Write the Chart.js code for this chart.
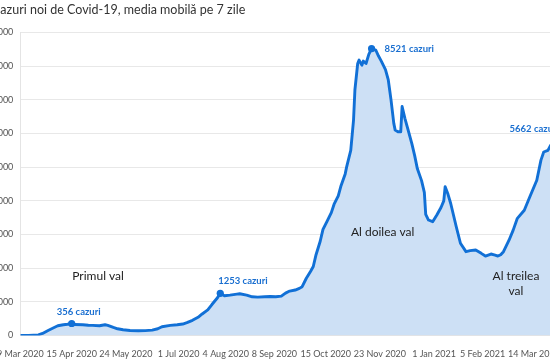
<!DOCTYPE html>
<html><head><meta charset="utf-8">
<script src="https://cdn.jsdelivr.net/npm/chart.js@4/dist/chart.umd.min.js"></script>
<style>
html,body{margin:0;padding:0;overflow:hidden;background:#fff;width:550px;height:362px;}
#wrap{position:absolute;left:-8px;top:0;width:575px;height:362px;}
</style></head><body>
<div id="wrap"><canvas id="c"></canvas></div>
<script>
const chartTitle = 'Cazuri noi de Covid-19, media mobilă pe 7 zile';
const dates = ['2020-03-09','2020-03-15','2020-03-22','2020-03-25','2020-03-29','2020-04-02','2020-04-05','2020-04-09','2020-04-12','2020-04-15','2020-04-17','2020-04-23','2020-04-27','2020-04-30','2020-05-05','2020-05-09','2020-05-11','2020-05-15','2020-05-18','2020-05-22','2020-05-27','2020-06-02','2020-06-07','2020-06-12','2020-06-16','2020-06-19','2020-06-25','2020-06-30','2020-07-04','2020-07-07','2020-07-11','2020-07-15','2020-07-18','2020-07-22','2020-07-25','2020-07-29','2020-07-31','2020-08-03','2020-08-07','2020-08-12','2020-08-14','2020-08-19','2020-08-23','2020-08-27','2020-09-01','2020-09-05','2020-09-09','2020-09-13','2020-09-16','2020-09-19','2020-09-23','2020-09-26','2020-09-28','2020-10-01','2020-10-04','2020-10-06','2020-10-08','2020-10-11','2020-10-13','2020-10-16','2020-10-19','2020-10-21','2020-10-24','2020-10-26','2020-10-29','2020-10-30','2020-11-02','2020-11-04','2020-11-05','2020-11-07','2020-11-08','2020-11-10','2020-11-11','2020-11-13','2020-11-15','2020-11-17','2020-11-20','2020-11-22','2020-11-24','2020-11-27','2020-11-29','2020-11-30','2020-12-01','2020-12-03','2020-12-04','2020-12-06','2020-12-08','2020-12-09','2020-12-11','2020-12-13','2020-12-16','2020-12-18','2020-12-20','2020-12-23','2020-12-25','2020-12-26','2020-12-28','2020-12-31','2021-01-03','2021-01-06','2021-01-08','2021-01-09','2021-01-11','2021-01-13','2021-01-17','2021-01-20','2021-01-24','2021-01-27','2021-01-31','2021-02-04','2021-02-07','2021-02-11','2021-02-14','2021-02-16','2021-02-18','2021-02-20','2021-02-24','2021-02-27','2021-03-02','2021-03-07','2021-03-11','2021-03-16','2021-03-19','2021-03-21','2021-03-24','2021-03-26','2021-03-29','2021-04-01'];
const cases = [0,5,20,60,150,230,290,320,335,356,325,320,305,300,290,320,300,240,200,170,150,140,145,160,200,260,300,320,340,380,450,540,640,760,920,1120,1253,1180,1200,1230,1240,1200,1150,1140,1150,1160,1150,1170,1260,1320,1350,1400,1450,1700,1900,2050,2400,2800,3150,3400,3650,3900,4150,4450,4800,5000,5500,6400,7300,8080,8180,8030,8150,8080,8350,8521,8480,8300,8150,7900,7600,7300,7000,6300,6100,6050,6050,6800,6450,6150,5700,5350,4950,4600,4250,3600,3430,3380,3580,3800,4000,4420,4200,3920,3230,2740,2490,2520,2540,2440,2360,2420,2390,2360,2400,2490,2830,3130,3480,3720,4120,4610,5210,5450,5500,5650,5650,5662];
const tickDates = ['2020-03-09','2020-04-15','2020-05-24','2020-07-01','2020-08-04','2020-09-08','2020-10-15','2020-11-23','2021-01-01','2021-02-05','2021-03-14'];
const tickLabels = ['9 Mar 2020','15 Apr 2020','24 May 2020','1 Jul 2020','4 Aug 2020','8 Sep 2020','15 Oct 2020','23 Nov 2020','1 Jan 2021','5 Feb 2021','14 Mar 2021'];
const markedDates = ['2020-04-15','2020-07-31','2020-11-17','2021-04-01'];
const waveLabels = [['Primul val'],['Al doilea val'],['Al treilea','val']];
const waveDates = ['2020-05-04','2020-11-25','2021-03-01'];
const waveLevels = [1752,3059,1767];

// styling for the annotations (pixel offsets)
const markStyle = [{align:'center',dx:7,dy:-12},{align:'left',dx:-2,dy:-12},{align:'left',dx:13,dy:0},{align:'right',dx:0,dy:-16}];

const t0 = Date.parse(dates[0]);
const day = d => Math.round((Date.parse(d) - t0) / 86400000);
const points = dates.map((d,i) => ({x: day(d), y: cases[i]}));
const tickDays = tickDates.map(day);
const markedIdx = markedDates.map(d => dates.indexOf(d));

const BLUE = '#1170d6';
const annot = {
  id: 'annot',
  afterDatasetsDraw(chart) {
    const ctx = chart.ctx, meta = chart.getDatasetMeta(0);
    const xs = chart.scales.x, ys = chart.scales.y;
    ctx.save();
    ctx.font = 'bold 9.5px Lato';
    ctx.fillStyle = '#1a6fd0';
    ctx.textBaseline = 'middle';
    markedIdx.forEach((i,k) => {
      const el = meta.data[i], s = markStyle[k];
      ctx.textAlign = s.align;
      ctx.fillText(cases[i] + ' cazuri', el.x + s.dx, el.y + s.dy);
    });
    ctx.font = '12px Lato';
    ctx.fillStyle = '#222';
    ctx.textAlign = 'center';
    waveLabels.forEach((lines,k) => {
      const x = xs.getPixelForValue(day(waveDates[k]));
      const y = ys.getPixelForValue(waveLevels[k]);
      lines.forEach((ln,j) => ctx.fillText(ln, x, y + j*15));
    });
    ctx.restore();
  }
};

function draw() {
  new Chart(document.getElementById('c'), {
    type: 'line',
    data: { datasets: [{
      data: points,
      borderColor: BLUE,
      backgroundColor: '#cde0f5',
      borderWidth: 2.9,
      borderJoinStyle: 'round',
      fill: 'origin',
      tension: 0,
      pointRadius: ctx => markedIdx.includes(ctx.dataIndex) ? 3.6 : 0,
      pointBackgroundColor: BLUE,
      pointBorderWidth: 0,
      pointHoverRadius: 0
    }]},
    options: {
      responsive: true,
      maintainAspectRatio: false,
      animation: false,
      events: [],
      layout: { padding: { left: 0, right: 8, top: 0, bottom: 0 } },
      plugins: {
        legend: { display: false },
        tooltip: { enabled: false },
        title: { display: true, text: chartTitle, align: 'start', color: '#333',
          font: { family: 'Lato', size: 12.5, weight: 'normal', lineHeight: 1.2 },
          padding: { top: 2.3, bottom: 15.2 } }
      },
      scales: {
        x: {
          type: 'linear', min: 0, max: day(dates[dates.length-1]),
          afterBuildTicks: s => { s.ticks = tickDays.map(v => ({value: v})); },
          afterFit: s => { s.height = 26.5; },
          grid: { display: false },
          border: { display: true, color: '#e4e4e4' },
          ticks: { autoSkip: false, maxRotation: 0, minRotation: 0, padding: 5, color: '#555',
            font: { family: 'Lato', size: 9 },
            callback: v => { const k = tickDays.indexOf(v); return k >= 0 ? tickLabels[k] : ''; } }
        },
        y: {
          min: 0, max: 9000,
          afterFit: s => { s.width = 25; },
          grid: { color: '#e8e8e8', drawTicks: false },
          border: { display: true, color: '#e4e4e4' },
          ticks: { stepSize: 1000, padding: 7, color: '#555', font: { family: 'Lato', size: 9 } }
        }
      }
    },
    plugins: [annot]
  });
}
if (document.fonts && document.fonts.load) {
  Promise.all([document.fonts.load('12px Lato'), document.fonts.load('bold 10px Lato')]).then(draw, draw);
} else draw();
</script>
</body></html>
